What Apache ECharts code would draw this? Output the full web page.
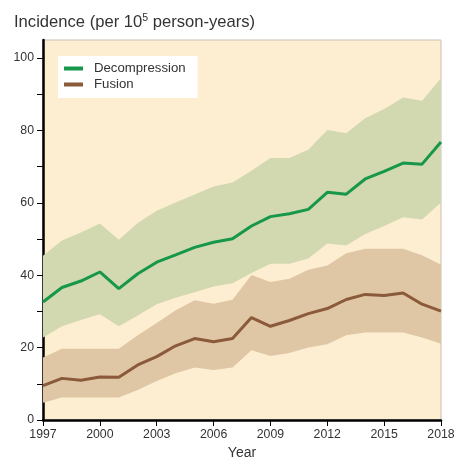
<!DOCTYPE html>
<html>
<head>
<meta charset="utf-8">
<script src="https://cdn.jsdelivr.net/npm/echarts@6/dist/echarts.min.js"></script>
<style>
html,body{margin:0;padding:0;background:#fff;}
#chart{width:456px;height:457px;}
</style>
</head>
<body>
<div id="chart"></div>
<script>
const years = ['1997','1998','1999','2000','2001','2002','2003','2004','2005','2006','2007','2008','2009','2010','2011','2012','2013','2014','2015','2016','2017','2018'];
const decompression = [32.6,36.6,38.4,40.9,36.3,40.4,43.6,45.6,47.7,49.1,50.1,53.6,56.2,57.0,58.2,62.9,62.4,66.6,68.7,71.0,70.7,76.8];
const decompressionLow = [22.8,25.9,27.6,29.2,25.9,28.9,32.0,33.8,35.3,36.9,37.8,40.6,43.2,43.2,44.6,48.8,48.2,51.4,53.6,56.0,55.4,60.1];
const decompressionHigh = [45.4,49.6,51.8,54.3,49.8,54.4,57.8,60.1,62.3,64.5,65.6,68.9,72.4,72.4,74.7,80.1,79.2,83.4,85.9,89.1,88.2,94.4];
const fusion = [9.5,11.5,11.0,11.9,11.8,15.2,17.5,20.5,22.5,21.6,22.5,28.3,25.9,27.5,29.4,30.8,33.3,34.7,34.4,35.1,32.0,30.1];
const fusionLow = [4.8,6.2,6.2,6.2,6.2,8.3,10.8,12.9,14.5,13.8,14.5,19.3,17.7,18.5,20.0,20.9,23.4,24.2,24.2,24.2,22.8,21.1];
const fusionHigh = [17.3,19.7,19.7,19.7,19.7,23.4,26.8,30.3,33.1,32.1,33.2,40.1,38.1,39.0,41.5,42.7,46.1,47.3,47.3,47.3,45.5,42.9];
const yTickValues = [0,10,20,30,40,50,60,70,80,90,100];
const yLabelValues = [0,20,40,60,80,100];

const diff = (hi, lo) => hi.map((v, i) => +(v - lo[i]).toFixed(2));
const chart = echarts.init(document.getElementById('chart'));
const FONT = 'Liberation Sans, Arial, Helvetica, sans-serif';
const TXT = '#333333';

function bandBase(name, data, stack) {
  return { name: name, type: 'line', stack: stack, data: data, symbol: 'none', silent: true,
    lineStyle: { opacity: 0 }, areaStyle: { opacity: 0 }, z: 1 };
}
function bandTop(name, data, stack, color) {
  return { name: name, type: 'line', stack: stack, data: data, symbol: 'none', silent: true,
    lineStyle: { opacity: 0 }, areaStyle: { color: color, opacity: 1 }, z: 1 };
}

chart.setOption({
  animation: false,
  textStyle: { fontFamily: FONT },
  title: {
    text: 'Incidence (per 10{sup|5} person-years)',
    left: 9, top: 8,
    textStyle: {
      fontFamily: FONT, fontSize: 16.6, fontWeight: 'normal', color: TXT,
      rich: { sup: { fontSize: 10.5, color: TXT, fontFamily: FONT, padding: [0, 0, 8, 0] } }
    }
  },
  legend: {
    data: ['Decompression', 'Fusion'],
    orient: 'vertical',
    left: 58, top: 56,
    backgroundColor: '#ffffff',
    padding: [6, 12, 7, 6],
    itemWidth: 19, itemHeight: 4,
    itemGap: 3,
    icon: 'rect',
    textStyle: { fontFamily: FONT, fontSize: 13.2, color: TXT, padding: [0, 0, 0, 6] }
  },
  grid: {
    left: 43, right: 15, top: 40, bottom: 37,
    outerBoundsMode: 'none',
    containLabel: false,
    show: true, backgroundColor: '#fdeed2', borderColor: '#c9c1b3', borderWidth: 1
  },
  xAxis: {
    type: 'category', data: years, boundaryGap: false,
    name: 'Year', nameLocation: 'middle', nameGap: 23,
    nameTextStyle: { fontFamily: FONT, fontSize: 14, color: TXT },
    axisLine: { lineStyle: { color: '#000', width: 2.5 } },
    axisTick: { interval: 2, length: 6, lineStyle: { color: '#000', width: 1 } },
    axisLabel: { interval: 2, margin: 9, fontFamily: FONT, fontSize: 12.3, color: TXT },
    splitLine: { show: false }
  },
  yAxis: {
    type: 'value', min: 0, max: 105,
    axisLine: { show: true, lineStyle: { color: '#000', width: 2.5 } },
    axisTick: { show: true, length: 6, customValues: yTickValues, lineStyle: { color: '#000', width: 1 } },
    axisLabel: { customValues: yLabelValues, margin: 9, fontFamily: FONT, fontSize: 12.3, color: TXT },
    splitLine: { show: false }
  },
  series: [
    bandBase('dLow', decompressionLow, 'dBand'),
    bandTop('dBand', diff(decompressionHigh, decompressionLow), 'dBand', '#d2d8b0'),
    bandBase('fLow', fusionLow, 'fBand'),
    bandTop('fBand', diff(fusionHigh, fusionLow), 'fBand', '#dfc7a5'),
    { name: 'Decompression', type: 'line', data: decompression, symbol: 'none', z: 3,
      color: '#17974a', lineStyle: { color: '#17974a', width: 3 } },
    { name: 'Fusion', type: 'line', data: fusion, symbol: 'none', z: 3,
      color: '#8a5a3a', lineStyle: { color: '#8a5a3a', width: 3 } }
  ]
});
</script>
</body>
</html>
